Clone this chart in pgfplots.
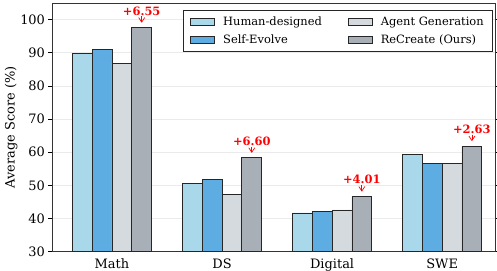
\documentclass[border=0pt]{standalone}
\usepackage{pgfplots}
\pgfplotsset{compat=1.18}
\usepackage{fontspec}
\setmainfont{DejaVu Serif}
\usetikzlibrary{arrows.meta}
\definecolor{chuman}{HTML}{A8D8EA}
\definecolor{cself}{HTML}{5DADE2}
\definecolor{cagent}{HTML}{D5DADF}
\definecolor{crec}{HTML}{A9AFB7}
\definecolor{gridc}{HTML}{EBEBEB}
\definecolor{annred}{HTML}{FF0000}
\begin{document}
\begin{tikzpicture}
\begin{axis}[
  name=main,
  scale only axis,
  width=443bp, height=248.7bp,
  ybar=0pt, bar width=19.8bp,
  xmin=-0.545, xmax=3.48,
  ymin=30, ymax=105,
  xtick={0,1,2,3},
  xticklabels={Math,DS,Digital,SWE},
  ytick={30,40,50,60,70,80,90,100},
  major x tick style={draw=none},
  ytick style={black, line width=0.6pt},
  tick align=outside,
  major tick length=3.5bp,
  ymajorgrids,
  grid style={gridc, line width=0.8pt},
  axis line style={black!80, line width=0.8pt},
  tick label style={font=\fontsize{13}{15}\selectfont},
  /pgf/number format/assume math mode=true,
  ylabel={Average Score (\%)},
  ylabel style={font=\fontsize{13}{15}\selectfont, yshift=-4bp},
  legend style={at={(1,1)}, anchor=north east, xshift=-2bp, yshift=-7bp,
    draw=black!85, line width=0.6pt, font=\fontsize{11.5}{13.5}\selectfont,
    inner xsep=7bp, inner ysep=5bp, row sep=3bp,
    /tikz/every odd column/.append style={column sep=6bp},
    /tikz/every even column/.append style={column sep=24bp}},
  legend columns=2,
  transpose legend,
  legend cell align=left,
  legend image code/.code={\draw[#1, line width=0.8pt] (0bp,-3.5bp) rectangle (24bp,3.5bp);},
]
\addplot[fill=chuman, draw=black!85, line width=0.8pt] coordinates {(0,89.8) (1,50.6) (2,41.7) (3,59.2)};
\addplot[fill=cself, draw=black!85, line width=0.8pt] coordinates {(0,91.0) (1,51.7) (2,42.1) (3,56.5)};
\addplot[fill=cagent, draw=black!85, line width=0.8pt] coordinates {(0,86.9) (1,47.2) (2,42.6) (3,56.6)};
\addplot[fill=crec, draw=black!85, line width=0.8pt] coordinates {(0,97.55) (1,58.3) (2,46.61) (3,61.83)};
\legend{Human-designed, Self-Evolve, Agent Generation, ReCreate (Ours)}
\foreach \xx/\yy/\lab in {0.27/97.55/+6.55,1.27/58.3/+6.60,2.27/46.61/+4.01,3.27/61.83/+2.63}{
  \edef\tmp{\noexpand\draw[annred, line width=0.7pt, -{Straight Barb[length=4.5bp,width=6bp]}] (axis cs:\xx,\yy+3.4) -- (axis cs:\xx,\yy+1.5);
  \noexpand\node[annred, font=\noexpand\fontsize{11.5}{13}\noexpand\selectfont\noexpand\bfseries, anchor=south, inner sep=0pt] at (axis cs:\xx,\yy+3.7) {\lab};}
  \tmp
}
\end{axis}
\pgfresetboundingbox
\path[use as bounding box] ([shift={(-52bp,-19.3bp)}]main.south west) rectangle ([shift={(2bp,3bp)}]main.north east);
\end{tikzpicture}
\end{document}
